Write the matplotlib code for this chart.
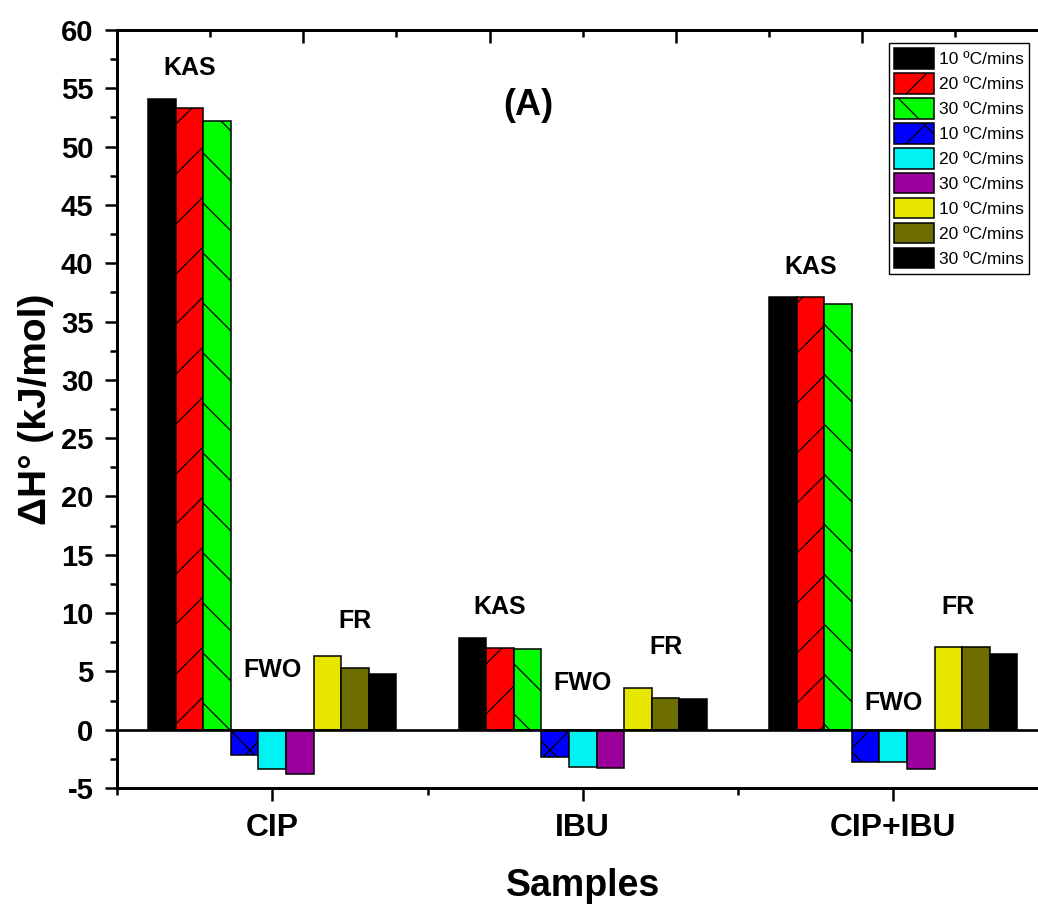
import matplotlib
matplotlib.use('Agg')
import matplotlib.pyplot as plt
import numpy as np
from matplotlib.ticker import MultipleLocator, FixedLocator

DPI = 150
S = 100 / DPI  # convert "pixel-like" sizes tuned at 100 dpi

plt.rcParams['font.family'] = ['Liberation Sans', 'DejaVu Sans']
plt.rcParams['hatch.linewidth'] = 0.9 * S
plt.rcParams['hatch.color'] = 'black'
plt.rcParams['axes.unicode_minus'] = False

# ---------------- data ----------------
samples = ['CIP', 'IBU', 'CIP+IBU']
series_labels = ['10 ºC/mins', '20 ºC/mins', '30 ºC/mins',
                 '10 ºC/mins', '20 ºC/mins', '30 ºC/mins',
                 '10 ºC/mins', '20 ºC/mins', '30 ºC/mins']
kas_10 = [54.1, 7.9, 37.1]
kas_20 = [53.3, 7.0, 37.1]
kas_30 = [52.2, 6.9, 36.5]
fwo_10 = [-2.2, -2.3, -2.8]
fwo_20 = [-3.4, -3.2, -2.8]
fwo_30 = [-3.8, -3.3, -3.4]
fr_10 = [6.3, 3.6, 7.1]
fr_20 = [5.3, 2.7, 7.1]
fr_30 = [4.8, 2.6, 6.5]
method_names = ['KAS', 'FWO', 'FR']
y_ticks = [-5, 0, 5, 10, 15, 20, 25, 30, 35, 40, 45, 50, 55, 60]

# annotation placement (baselines in data units)
fwo_label_y = [4.5, 3.4, 1.7]
fr_label_y = [8.75, 6.5, 9.95]
fr_label_dx = [0.0, 0.0, -0.058]

series = [kas_10, kas_20, kas_30, fwo_10, fwo_20, fwo_30, fr_10, fr_20, fr_30]
colors = ['#000000', '#FF0000', '#00FF00', '#0000FF', '#00F2F2',
          '#9C009C', '#E6E600', '#6E6E00', '#000000']
hatches = [None, '/', '\\', 'x', None, None, None, None, None]

fig = plt.figure(figsize=(1038 / DPI, 904 / DPI), dpi=DPI)
ax = fig.add_axes([117 / 1038, 1 - 788 / 904, 931.5 / 1038, 758 / 904])

x = np.arange(1, len(samples) + 1)
n = len(series)
width = 0.8 / n
for i, (vals, c, h, lab) in enumerate(zip(series, colors, hatches, series_labels)):
    ax.bar(x - 0.4 + width * (i + 0.5), vals, width, color=c, edgecolor='black',
           linewidth=1.1 * S, hatch=h, label=lab)

ax.axhline(0, color='black', linewidth=1.9 * S, zorder=3)

ax.set_xlim(0.5, 3.5)
ax.set_ylim(-5, 60)
ax.set_xticks(x)
ax.set_xticklabels(samples, fontsize=23 * S, fontweight='bold')
ax.xaxis.set_minor_locator(FixedLocator([0.5, 1.5, 2.5, 3.5]))
ax.set_yticks(y_ticks)
ax.yaxis.set_minor_locator(MultipleLocator(2.5))
for lbl in ax.get_yticklabels():
    lbl.set_fontsize(21 * S)
    lbl.set_fontweight('bold')

ax.tick_params(axis='both', which='major', direction='out', length=9 * S, width=1.8 * S)
ax.tick_params(axis='both', which='minor', direction='out', length=5 * S, width=1.8 * S)
ax.tick_params(axis='y', which='major', pad=8 * S)
ax.tick_params(axis='x', which='major', pad=9 * S)

for side in ['left', 'bottom', 'top', 'right']:
    ax.spines[side].set_linewidth(2.0 * S)

ax.set_xlabel('Samples', fontsize=27 * S, fontweight='bold', labelpad=18 * S)
ax.set_ylabel('ΔH° (kJ/mol)', fontsize=28 * S, fontweight='bold', labelpad=5 * S)

# method labels
for j in range(len(samples)):
    kas_max = max(kas_10[j], kas_20[j], kas_30[j])
    kas_x = x[j] - 0.4 + width * 1.5
    ax.text(kas_x, kas_max + 2.0, method_names[0], ha='center', va='baseline',
            fontsize=18 * S, fontweight='bold')
    ax.text(x[j], fwo_label_y[j], method_names[1], ha='center', va='baseline',
            fontsize=18 * S, fontweight='bold')
    fr_x = x[j] - 0.4 + width * 7.5 + fr_label_dx[j]
    ax.text(fr_x, fr_label_y[j], method_names[2], ha='center', va='baseline',
            fontsize=18 * S, fontweight='bold')

ax.text(0.442, 0.888, '(A)', transform=ax.transAxes, ha='center', va='baseline',
        fontsize=26 * S, fontweight='bold')

# legend
leg = ax.legend(loc='upper right', bbox_to_anchor=(0.979, 0.983), borderaxespad=0,
                fontsize=12.5 * S, handlelength=2.3, handleheight=1.45, labelspacing=0.25,
                handletextpad=0.3, borderpad=0.3, fancybox=False, framealpha=1,
                edgecolor='black')
leg.get_frame().set_linewidth(1.0 * S)

# top and right axes with ticks only (as in the original layer)
axt = ax.twiny()
axt.set_xlim(0, 1)
axt.xaxis.set_major_locator(MultipleLocator(0.2))
axt.xaxis.set_minor_locator(MultipleLocator(0.1))
axt.tick_params(axis='x', which='major', direction='in', length=9 * S, width=1.8 * S,
                labeltop=False)
axt.tick_params(axis='x', which='minor', direction='in', length=5 * S, width=1.8 * S)
axr = ax.twinx()
axr.set_ylim(0, 1)
axr.yaxis.set_major_locator(MultipleLocator(0.2))
axr.tick_params(axis='y', which='major', direction='in', length=8 * S, width=1.8 * S,
                labelright=False)
for a in (axt, axr):
    for side in ['left', 'bottom', 'top', 'right']:
        a.spines[side].set_linewidth(2.0 * S)

fig.savefig('out.png', dpi=DPI)
